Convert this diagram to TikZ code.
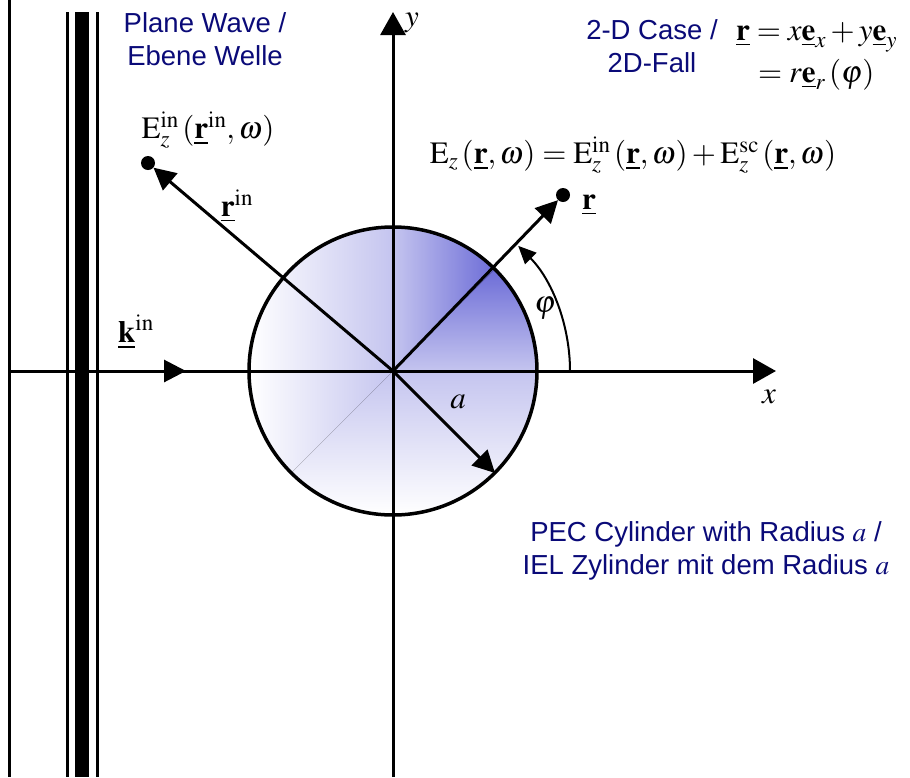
\documentclass[tikz,border=0pt]{standalone}
\usepackage{amsmath}
\usepackage{mathptmx}
\usepackage[no-math]{fontspec}
\setmainfont{Liberation Serif}
\newfontfamily\labelsans{Liberation Sans}
\usetikzlibrary{arrows.meta,positioning}
\definecolor{labelnavy}{RGB}{10,10,120}
\definecolor{cylblue}{RGB}{72,72,205}

\begin{document}
\begin{tikzpicture}[x=1pt, y=-1pt,
  thickline/.style={line width=3pt},
  vec/.style={line width=3pt, -{Triangle[length=22pt,width=22pt]}},
  tipdot/.style={circle, fill=black, inner sep=0pt, minimum size=14pt},
  sanslabel/.style={font=\labelsans\fontsize{27.5}{33}\selectfont, text=labelnavy, align=center},
  mathlabel/.style={font=\fontsize{31}{36}\selectfont, inner sep=1pt}
]
\useasboundingbox (0,0) rectangle (910,777);

\coordinate (O) at (393,371);
\coordinate (xL) at (9,371);
\coordinate (xR) at (776,371);
\coordinate (yB) at (393,777);
\coordinate (yT) at (393,12);
\coordinate (kTip) at (186,371);
\coordinate (aTip) at (495,473);
\coordinate (phiStart) at (570,371);

% cylinder shading
\begin{scope}
  \clip (O) circle[radius=144];
  \fill[top color=cylblue, bottom color=white, middle color=cylblue!32] (249,227) rectangle (537,515);
  \fill[left color=white, right color=cylblue, middle color=cylblue!32] (249,227) -- (537,227) -- (249,515) -- cycle;
\end{scope}

% plane wave
\draw[thickline] (9,0) -- (9,777);
\draw[thickline] (67,12) -- (67,777);
\draw[line width=14pt] (82,12) -- (82,777);
\draw[thickline] (97,12) -- (97,777);

% axes
\draw[thickline, -{Triangle[length=23pt,width=25pt]}] (xL) -- (xR);
\draw[thickline, -{Triangle[length=23pt,width=25pt]}] (yB) -- (yT);
\draw[line width=3.5pt] (O) circle[radius=144];

\node[tipdot] (rinDot) at (148,163) {};
\node[tipdot] (rDot) at (563,195) {};

\draw[vec] (xL) -- (kTip);
\draw[vec] (O) -- (rinDot);
\draw[vec] (O) -- (rDot);
\draw[vec] (O) -- (aTip);
\draw[line width=2pt, -{Triangle[length=18pt,width=16pt]}] (phiStart) arc[start angle=0, end angle=-45, radius=177];

\node[mathlabel] (xLabel) at (769,397) {$x$};
\node[mathlabel] (yLabel) at (412,23) {$y$};
\node[mathlabel] (aLabel) at (458,402) {$a$};
\node[mathlabel] (phiLabel) at (545,308) {$\varphi$};
\node[mathlabel] (kLabel) at (136,332) {$\underline{\mathbf k}^{\mathrm{in}}$};
\node[mathlabel] (rinLabel) at (237,206) {$\underline{\mathbf r}^{\mathrm{in}}$};
\node[mathlabel] (rLabel) at (589,205) {$\underline{\mathbf r}$};
\node[mathlabel] (EinLabel) at (208,130) {$\mathrm{E}_z^{\mathrm{in}}\,(\underline{\mathbf r}^{\mathrm{in}},\omega)$};
\node[mathlabel] (EtotLabel) at (633,155) {$\mathrm{E}_z\,(\underline{\mathbf r},\omega)=\mathrm{E}_z^{\mathrm{in}}\,(\underline{\mathbf r},\omega)+\mathrm{E}_z^{\mathrm{sc}}\,(\underline{\mathbf r},\omega)$};
\node[mathlabel, anchor=base west] (rDefA) at (735,40) {$\underline{\mathbf r}=x\underline{\mathbf e}_x+y\underline{\mathbf e}_y$};
\node[mathlabel, anchor=base west] (rDefB) at (757,82) {$=r\underline{\mathbf e}_r\,(\varphi)$};

\node[sanslabel] (waveLabel) at (205,39) {Plane Wave /\\Ebene Welle};
\node[sanslabel] (caseLabel) at (652,46) {2-D Case /\\2D-Fall};
\node[sanslabel] (pecLabel) at (706,551) {PEC Cylinder with Radius $a$ /\\IEL Zylinder mit dem Radius $a$};
\end{tikzpicture}
\end{document}
